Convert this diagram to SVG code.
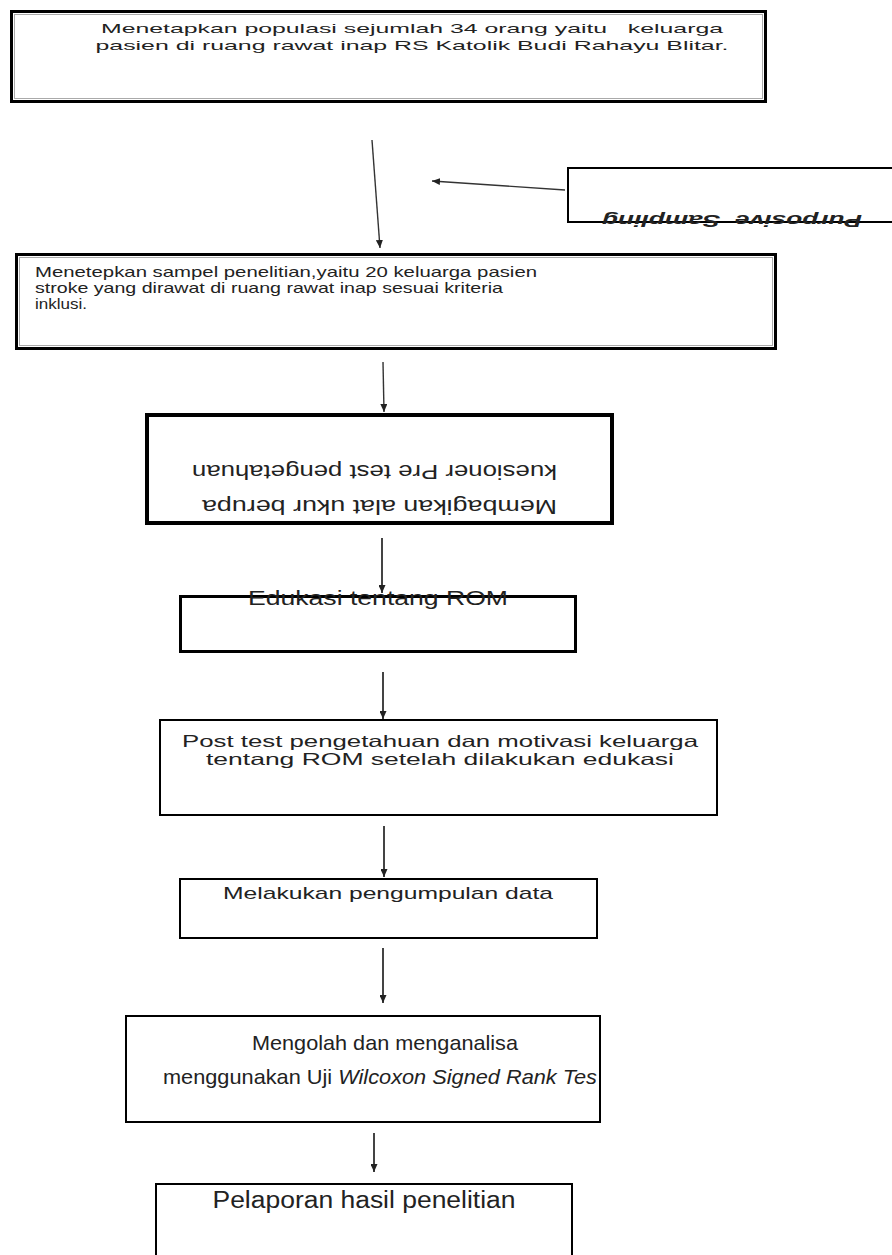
<svg xmlns="http://www.w3.org/2000/svg" width="892" height="1255" viewBox="0 0 892 1255">
<defs>
<style>
.t{font-family:"Liberation Sans",Arial,sans-serif;fill:#222;white-space:pre;}
.bx{fill:#fff;stroke:#000;}
.in{fill:none;stroke:#aaa;stroke-width:1;}
.c{stroke:#333;stroke-width:1.4;fill:none;}
.c2{stroke:#444;stroke-width:2;fill:none;}
</style>
<marker id="ah" markerUnits="userSpaceOnUse" markerWidth="9" markerHeight="7" refX="8" refY="3.5" orient="auto">
<path d="M0,0 L8,3.5 L0,7 z" fill="#222"/>
</marker>
</defs>
<rect width="892" height="1255" fill="#fff"/>

<g id="connectors">
<line class="c" x1="372" y1="140" x2="380" y2="248" marker-end="url(#ah)"/>
<line class="c" x1="565" y1="190" x2="432" y2="181" marker-end="url(#ah)"/>
<line class="c" x1="383" y1="362" x2="384" y2="412" marker-end="url(#ah)"/>
<line class="c2" x1="382" y1="538" x2="382" y2="593" marker-end="url(#ah)"/>
<line class="c2" x1="383" y1="672" x2="383" y2="719" marker-end="url(#ah)"/>
<line class="c2" x1="384" y1="826" x2="384" y2="877" marker-end="url(#ah)"/>
<line class="c2" x1="383" y1="948" x2="383" y2="1003" marker-end="url(#ah)"/>
<line class="c2" x1="374" y1="1133" x2="374" y2="1172" marker-end="url(#ah)"/>
</g>

<g id="node-populasi">
<rect class="bx" x="11.5" y="11.5" width="754" height="90" stroke-width="3"/>
<rect class="in" x="14.5" y="14.5" width="748" height="84"/>
<text class="t" x="412" y="33" font-size="13" text-anchor="middle" textLength="622" lengthAdjust="spacingAndGlyphs" xml:space="preserve">Menetapkan populasi sejumlah 34 orang yaitu   keluarga</text>
<text class="t" x="412" y="50" font-size="13" text-anchor="middle" textLength="633" lengthAdjust="spacingAndGlyphs">pasien di ruang rawat inap RS Katolik Budi Rahayu Blitar.</text>
</g>

<g id="node-purposive">
<path d="M892,168 H568 V222 H892" fill="#fff" stroke="#000" stroke-width="2"/>
<text class="t" x="732" y="215" font-size="16" font-weight="bold" font-style="italic" text-anchor="middle" textLength="260" lengthAdjust="spacingAndGlyphs" transform="rotate(180 732 215)" xml:space="preserve">Purposive  Sampling</text>
</g>

<g id="node-sampel">
<rect class="bx" x="16.5" y="254.5" width="759" height="94" stroke-width="3"/>
<rect class="in" x="19.5" y="257.5" width="753" height="88"/>
<text class="t" x="35" y="277" font-size="14.5" textLength="502" lengthAdjust="spacingAndGlyphs">Menetepkan sampel penelitian,yaitu 20 keluarga pasien</text>
<text class="t" x="35" y="293" font-size="14.5" textLength="468" lengthAdjust="spacingAndGlyphs">stroke yang dirawat di ruang rawat inap sesuai kriteria</text>
<text class="t" x="35" y="309" font-size="14.5" textLength="52" lengthAdjust="spacingAndGlyphs">inklusi.</text>
</g>

<g id="node-pretest">
<rect class="bx" x="147" y="415" width="465" height="108" stroke-width="4"/>
<g transform="rotate(180 379 469)">
<text class="t" x="201" y="438" font-size="21" textLength="355" lengthAdjust="spacingAndGlyphs">Membagikan alat ukur berupa</text>
<text class="t" x="201" y="473" font-size="21" textLength="365" lengthAdjust="spacingAndGlyphs">kuesioner Pre test pengetahuan</text>
</g>
</g>

<g id="node-edukasi">
<rect class="bx" x="180.5" y="596.5" width="395" height="55" stroke-width="3"/>
<text class="t" x="378" y="605" font-size="20" text-anchor="middle" textLength="260" lengthAdjust="spacingAndGlyphs">Edukasi tentang ROM</text>
</g>

<g id="node-posttest">
<rect class="bx" x="160" y="720" width="557" height="95" stroke="#333" stroke-width="2"/>
<text class="t" x="440" y="747" font-size="16.5" text-anchor="middle" textLength="516" lengthAdjust="spacingAndGlyphs">Post test pengetahuan dan motivasi keluarga</text>
<text class="t" x="440" y="765" font-size="16.5" text-anchor="middle" textLength="468" lengthAdjust="spacingAndGlyphs">tentang ROM setelah dilakukan edukasi</text>
</g>

<g id="node-data">
<rect class="bx" x="180" y="879" width="417" height="59" stroke="#444" stroke-width="2"/>
<text class="t" x="388" y="899" font-size="17" text-anchor="middle" textLength="330" lengthAdjust="spacingAndGlyphs">Melakukan pengumpulan data</text>
</g>

<g id="node-analisa">
<rect class="bx" x="126" y="1016" width="474" height="106" stroke="#333" stroke-width="2"/>
<text class="t" x="385" y="1050" font-size="21" text-anchor="middle" textLength="266" lengthAdjust="spacingAndGlyphs">Mengolah dan menganalisa</text>
<text class="t" x="380" y="1084" font-size="21" text-anchor="middle" textLength="434" lengthAdjust="spacingAndGlyphs">menggunakan Uji <tspan font-style="italic">Wilcoxon Signed Rank Tes</tspan></text>
</g>

<g id="node-pelaporan">
<path d="M156,1260 V1184 H572 V1260" fill="#fff" stroke="#000" stroke-width="2"/>
<text class="t" x="364" y="1208" font-size="23" text-anchor="middle" textLength="303" lengthAdjust="spacingAndGlyphs">Pelaporan hasil penelitian</text>
</g>
</svg>
